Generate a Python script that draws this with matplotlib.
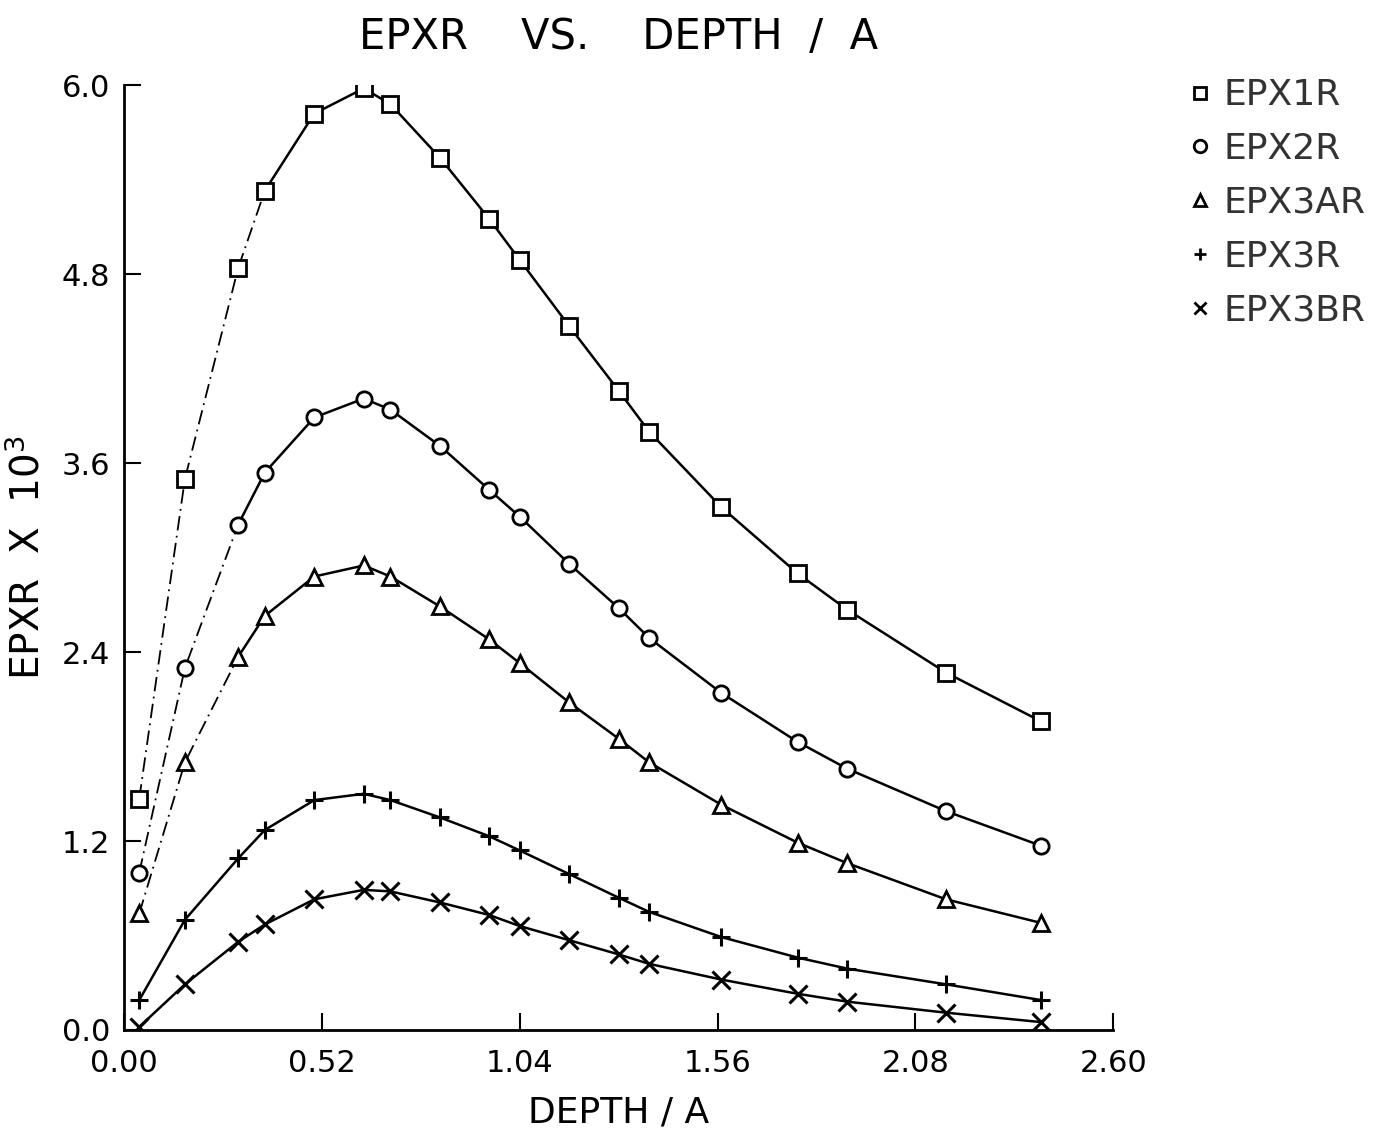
import matplotlib
matplotlib.use("Agg")
from matplotlib import pyplot as plt
import numpy as np

plt.rcParams['font.family'] = ['DejaVu Sans']

# depth values (shared by all curves)
depth = [0.04, 0.16, 0.30, 0.37, 0.50, 0.63, 0.70, 0.83, 0.96, 1.04,
         1.17, 1.30, 1.38, 1.57, 1.77, 1.90, 2.16, 2.41]

epx1r = [1.47, 3.50, 4.84, 5.33, 5.82, 5.98, 5.88, 5.54, 5.15, 4.89,
         4.47, 4.06, 3.80, 3.32, 2.90, 2.67, 2.27, 1.96]
epx2r = [1.00, 2.30, 3.21, 3.54, 3.89, 4.01, 3.94, 3.71, 3.43, 3.26,
         2.96, 2.68, 2.49, 2.14, 1.83, 1.66, 1.39, 1.17]
epx3ar = [0.74, 1.70, 2.37, 2.63, 2.88, 2.95, 2.88, 2.69, 2.48, 2.33,
          2.08, 1.85, 1.70, 1.43, 1.19, 1.06, 0.83, 0.68]
epx3r = [0.19, 0.70, 1.09, 1.27, 1.46, 1.50, 1.46, 1.35, 1.23, 1.14,
         0.99, 0.84, 0.75, 0.59, 0.46, 0.39, 0.29, 0.19]
epx3br = [0.02, 0.29, 0.56, 0.67, 0.83, 0.89, 0.88, 0.81, 0.73, 0.66,
          0.57, 0.48, 0.42, 0.32, 0.23, 0.18, 0.11, 0.05]

names = ["EPX1R", "EPX2R", "EPX3AR", "EPX3R", "EPX3BR"]
markers = ["s", "o", "^", "+", "x"]
# how many leading points are joined with a broken (dash-dot) line
n_dashed = [4, 3, 3, 0, 0]

xticks = [0.0, 0.52, 1.04, 1.56, 2.08, 2.60]
xticklabels = ["0.00", "0.52", "1.04", "1.56", "2.08", "2.60"]
yticks = [0.0, 1.2, 2.4, 3.6, 4.8, 6.0]
yticklabels = ["0.0", "1.2", "2.4", "3.6", "4.8", "6.0"]

fig = plt.figure(figsize=(13.83, 11.41), dpi=100)
ax = fig.add_axes([0.0897, 0.0973, 0.7153, 0.828])

series = [epx1r, epx2r, epx3ar, epx3r, epx3br]
for vals, name, m, nd in zip(series, names, markers, n_dashed):
    x = np.array(depth)
    y = np.array(vals)
    if nd > 0:
        ax.plot(x[:nd], y[:nd], color='black', lw=1.3, ls=(0, (8, 3, 1, 3)))
        ax.plot(x[nd - 1:], y[nd - 1:], color='black', lw=1.8)
    else:
        ax.plot(x, y, color='black', lw=1.8)
    if m in ("+", "x"):
        ax.plot(x, y, ls='none', marker=m, ms=13, mew=2.2, color='black')
    else:
        ax.plot(x, y, ls='none', marker=m, ms=11, mew=2, mfc='white',
                mec='black')
    ax.plot([], [], ls='none', marker=m, ms=9, mew=2, mfc='white',
            mec='black', color='black', label=name)

ax.set_xlim(0, 2.6)
ax.set_ylim(0, 6.0)
ax.set_xticks(xticks)
ax.set_xticklabels(xticklabels)
ax.set_yticks(yticks)
ax.set_yticklabels(yticklabels)
ax.tick_params(direction='in', length=12, width=1.5, labelsize=22)
ax.tick_params(axis='x', pad=14)
ax.tick_params(axis='y', pad=10)
ax.spines['top'].set_visible(False)
ax.spines['right'].set_visible(False)
ax.spines['left'].set_linewidth(2)
ax.spines['bottom'].set_linewidth(2)

ax.set_xlabel("DEPTH / A", fontsize=26, labelpad=12)
ax.set_ylabel("EPXR  X  10$^3$", fontsize=28, labelpad=10)
ax.set_title("EPXR    VS.    DEPTH  /  A", fontsize=30, pad=26)

fig.legend(loc='upper left', bbox_to_anchor=(0.838, 0.96), frameon=False,
           fontsize=26, handlelength=0.5, handletextpad=0.4,
           labelspacing=0.55, labelcolor='#333333')

fig.savefig("out.png", dpi=100)
